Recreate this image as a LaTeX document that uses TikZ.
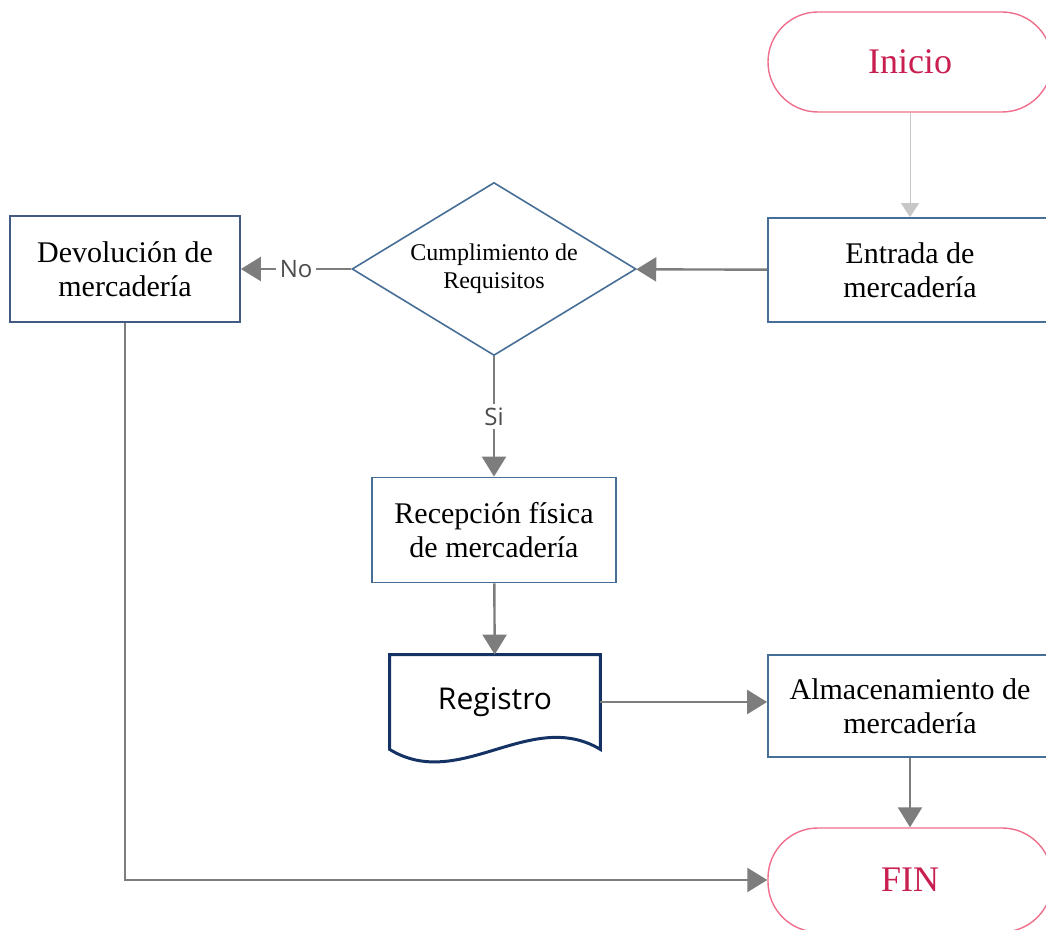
\documentclass[tikz,border=0pt]{standalone}
\usepackage{fontspec}
\setmainfont{Liberation Serif}
\newfontfamily\labelfont{Open Sans}
\usetikzlibrary{arrows.meta, shapes.geometric}
\definecolor{boxline}{RGB}{70,110,150}
\definecolor{docline}{RGB}{20,50,100}
\definecolor{termline}{RGB}{238,110,140}
\definecolor{termtext}{RGB}{200,30,80}
\definecolor{flowgray}{RGB}{125,125,125}

\begin{document}
\begin{tikzpicture}[x=0.5pt, y=-0.5pt, >={Triangle[length=10pt,width=12pt]},
    process/.style={draw=boxline, line width=0.9pt, fill=white, minimum width=142pt,
      minimum height=52pt, align=center, font=\fontsize{15}{17}\selectfont},
    decision/.style={diamond, draw=boxline, line width=0.8pt, aspect=1.64, minimum width=142pt,
      minimum height=86.5pt, inner sep=0pt, align=center, font=\fontsize{12}{14}\selectfont},
    terminal/.style={draw=termline, line width=0.7pt, rounded corners=25pt, minimum width=142pt,
      minimum height=50pt, text=termtext, font=\fontsize{18}{20}\selectfont},
    flow/.style={->, color=flowgray, line width=1.2pt},
    answer/.style={fill=white, inner sep=2pt, text=black!70, font=\labelfont\fontsize{12}{14}\selectfont}]
  \useasboundingbox (0,0) rectangle (1046,930);
  \clip (0,0) rectangle (1046,930);

  \node[terminal]                 (inicio)  at (910,62)  {Inicio};
  \node[process]                  (entrada) at (910,270) {Entrada de\\mercadería};
  \node[decision]                 (req)     at (494,269) {Cumplimiento de\\Requisitos};
  \node[process, draw=docline!80, minimum width=115pt, minimum height=53pt]
                                  (devol)   at (125,269) {Devolución de\\mercadería};
  \node[process, minimum width=122pt, minimum height=52.5pt]
                                  (recep)   at (494,530) {Recepción física\\de mercadería};
  \node[minimum width=105pt, minimum height=47pt, font=\labelfont\fontsize{15}{17}\selectfont]
                                  (reg)     at (495,702) {Registro};
  \node[process, minimum height=51pt] (alm) at (910,706) {Almacenamiento de\\mercadería};
  \node[terminal, minimum height=52pt] (fin) at (910,880) {FIN};

  % documento con borde ondulado
  \draw[docline, line width=1.5pt] (reg.south west) -- (reg.north west) -- (reg.north east)
    -- (reg.south east) .. controls +(-70,-42) and +(70,43) .. (reg.south west) -- cycle;

  \draw[->, color=black!22, line width=0.5pt, >={Triangle[length=7pt,width=9pt]}] (inicio) -- (entrada);
  \path[flow] (entrada) edge                   (req)
              (req)     edge node[answer] {No} (devol)
              (req)     edge node[answer] {Si} (recep)
              (recep)   edge                   (reg)
              (alm)     edge                   (fin);
  \draw[flow] (reg.east) -- (reg.east -| alm.west);
  \draw[flow] (devol) |- (fin);
\end{tikzpicture}
\end{document}
